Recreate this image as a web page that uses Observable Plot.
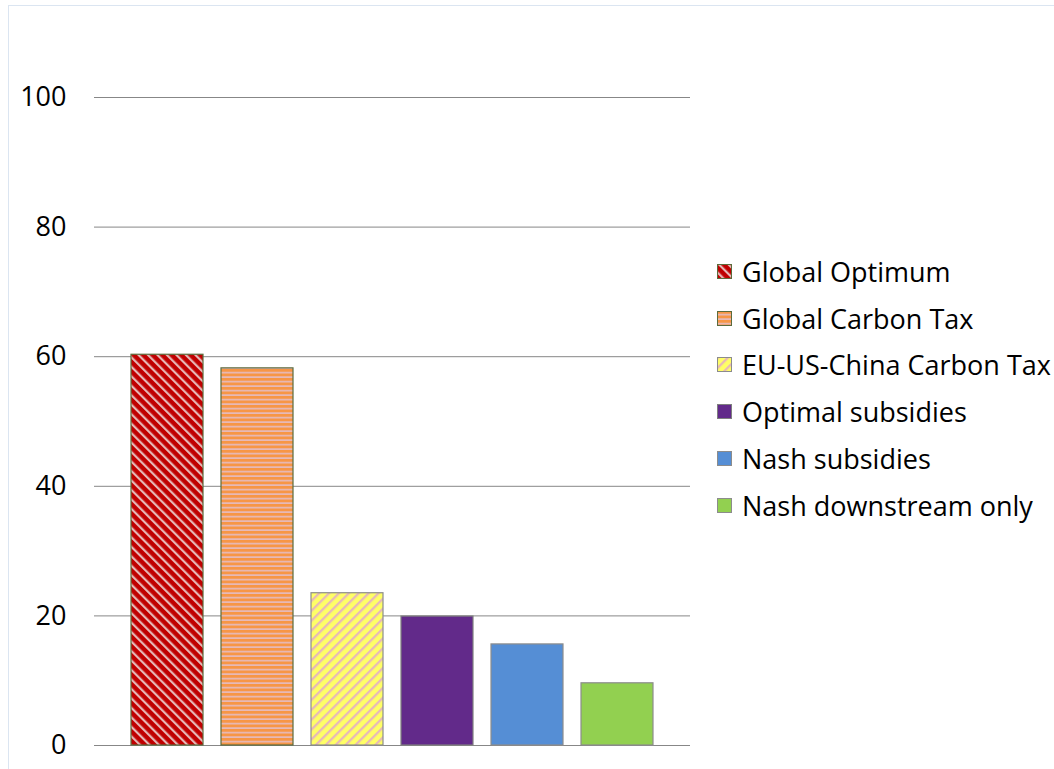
<!DOCTYPE html>
<html>
<head>
<meta charset="utf-8">
<script src="https://cdn.jsdelivr.net/npm/d3@7"></script>
<script src="https://cdn.jsdelivr.net/npm/@observablehq/plot@0.6"></script>
<style>
  html, body { margin: 0; padding: 0; background: #fff; }
  #wrap { position: relative; width: 1054px; height: 769px; overflow: hidden; font-family: "Open Sans", sans-serif; }
  #frame { position: absolute; left: 8px; top: 5px; width: 1060px; height: 780px; border: 1px solid #dbe5f1; box-sizing: border-box; }
  #chart { position: absolute; left: 0; top: 0; }
  #legend { position: absolute; left: 717px; top: 248px; }
  .item { display: flex; align-items: center; height: 46.8px; font-size: 27px; color: #000; white-space: nowrap; }
  .item svg { margin-right: 10px; flex: none; }
</style>
</head>
<body>
<div id="wrap">
  <div id="frame"></div>
  <div id="chart"></div>
  <div id="legend"></div>
</div>
<script>
const series = ["Global Optimum", "Global Carbon Tax", "EU-US-China Carbon Tax", "Optimal subsidies", "Nash subsidies", "Nash downstream only"];
const values = [60.3, 58.2, 23.5, 19.9, 15.6, 9.6];
const fills = ["url(#patRed)", "url(#patOrange)", "url(#patYellow)", "#622a8a", "#558ed5", "#92d050"];
const strokes = ["#5b6b3c", "#5b6b3c", "#8c8c8c", "#7f7f7f", "#8c8c8c", "#8c8c8c"];
const yTicks = [0, 20, 40, 60, 80, 100];

const data = series.map((name, i) => ({name, value: values[i], fill: fills[i], stroke: strokes[i]}));

const chart = Plot.plot({
  width: 700,
  height: 769,
  marginTop: 97,
  marginBottom: 24,
  marginLeft: 94,
  marginRight: 10,
  style: {fontFamily: "'Open Sans', sans-serif", color: "#000", background: "transparent"},
  x: {domain: series, paddingInner: 0.2, paddingOuter: 0.411, axis: null},
  y: {domain: [0, 100], axis: null},
  color: {type: "identity"},
  marks: [
    Plot.gridY(yTicks, {stroke: "#878787", strokeOpacity: 1, strokeWidth: 1}),
    Plot.axisY(yTicks, {tickSize: 0, tickPadding: 28, fontSize: 27, fill: "#000", label: null}),
    Plot.barY(data, {x: "name", y: "value", fill: "fill", stroke: "stroke", strokeWidth: 1.2})
  ]
});

// pattern definitions
const defs = `
<defs>
  <pattern id="patRed" patternUnits="userSpaceOnUse" width="6.7" height="6.7" patternTransform="rotate(-45)">
    <rect width="6.7" height="6.7" fill="#c00000"/>
    <rect width="2.2" height="6.7" fill="#e6b9b8"/>
  </pattern>
  <pattern id="patOrange" patternUnits="userSpaceOnUse" width="4.5" height="4.5">
    <rect width="4.5" height="4.5" fill="#f79646"/>
    <rect y="2.8" width="4.5" height="1.7" fill="#e6b9b8"/>
  </pattern>
  <pattern id="patYellow" patternUnits="userSpaceOnUse" width="7" height="7" patternTransform="rotate(45)">
    <rect width="7" height="7" fill="#ffff66"/>
    <rect width="2.3" height="7" fill="#e6b9b8"/>
  </pattern>
</defs>`;
chart.insertAdjacentHTML("afterbegin", defs);
document.getElementById("chart").appendChild(chart);

// legend
const legend = document.getElementById("legend");
series.forEach((name, i) => {
  const div = document.createElement("div");
  div.className = "item";
  div.innerHTML = `<svg width="15" height="15"><rect x="0.5" y="0.5" width="14" height="14" fill="${fills[i]}" stroke="${strokes[i]}" stroke-width="1"/></svg><span>${name}</span>`;
  legend.appendChild(div);
});
</script>
</body>
</html>
